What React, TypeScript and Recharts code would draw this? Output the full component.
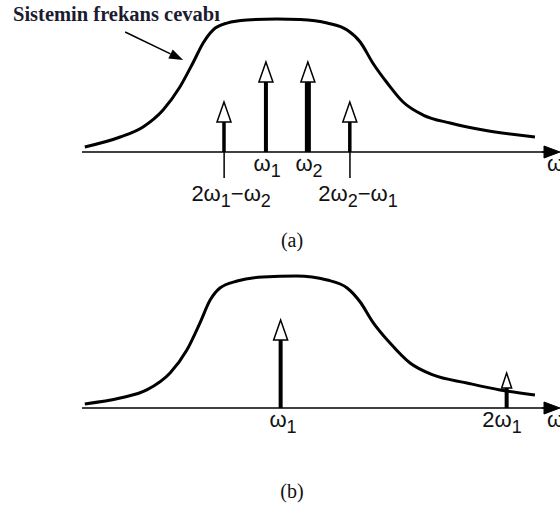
import { Bar, ComposedChart, Line, ReferenceDot, XAxis, YAxis } from 'recharts'

// system response curves (arbitrary freq units 0..10, amplitude 0..10)
const RESP_A_X = [0.06, 0.82, 1.31, 1.74, 2.1, 2.38, 2.6, 2.81, 3.11, 3.54, 4.18, 4.68, 5.26, 5.69, 5.97, 6.24, 6.55, 6.89, 7.32, 7.9, 8.61, 9.72]
const RESP_A_Y = [0.36, 1.07, 1.79, 3.0, 4.64, 6.36, 7.79, 8.71, 9.21, 9.43, 9.5, 9.46, 9.21, 8.71, 7.86, 6.36, 4.93, 3.57, 2.64, 2.07, 1.57, 1.07]
const RESP_B_X = [0.06, 0.82, 1.39, 1.89, 2.25, 2.53, 2.75, 2.96, 3.33, 3.88, 4.61, 5.26, 5.69, 5.97, 6.24, 6.61, 7.04, 7.53, 8.26, 8.97, 9.72]
const RESP_B_Y = [0.29, 0.71, 1.29, 2.5, 4.14, 6.07, 7.71, 8.57, 9.07, 9.36, 9.43, 9.14, 8.57, 7.57, 6.14, 4.64, 3.21, 2.36, 1.79, 1.29, 0.93]

// impulses (tones and products)
const IMP_A_X = [3.05, 3.95, 4.85, 5.75]
const IMP_A_H = [3.57, 6.43, 6.43, 3.57]
const IMP_A_LABELS = [['2ω', '1', '−ω', '2'], ['ω', '1'], ['ω', '2'], ['2ω', '2', '−ω', '1']]
const IMP_B_X = [4.27, 9.12]
const IMP_B_H = [6.29, 2.5]
const IMP_B_LABELS = [['ω', '1'], ['2ω', '1']]

const TITLE = 'Sistemin frekans cevabı'
const AXIS_NAME = 'ω'

const SANS = '"Liberation Sans", Arial, sans-serif'
const SERIF = '"Liberation Serif", "Times New Roman", serif'
const INK = '#111'
const FS = 22
const FS_SUB = 18

function buildRows(rx: number[], ry: number[], ix: number[], ih: number[]) {
  const rows: { x: number; resp?: number; imp?: number }[] = []
  rx.forEach((x, i) => rows.push({ x, resp: ry[i] }))
  ix.forEach((x, i) => rows.push({ x, imp: ih[i] }))
  return rows.sort((a, b) => a.x - b.x)
}

function SubText({ x, y, parts }: { x: number; y: number; parts: string[] }) {
  return (
    <text x={x} y={y} textAnchor="middle" fontFamily={SANS} fontSize={FS} fill={INK}>
      {parts.map((s, k) => (
        <tspan key={k} dy={k === 0 ? 0 : k % 2 ? 6 : -6} fontSize={k % 2 ? FS_SUB : FS}>
          {s}
        </tspan>
      ))}
    </text>
  )
}

function ImpTick(props: any) {
  const { x, y, payload, xs, labels, dxs } = props
  const i = xs.indexOf(payload.value)
  if (i < 0) return null
  const parts = labels[i]
  const low = parts.length > 2
  return (
    <g>
      {low && <line x1={x} x2={x} y1={y} y2={y + 26} stroke="#000" strokeWidth={1.5} />}
      <SubText x={x + dxs[i]} y={low ? y + 49 : y + 19} parts={parts} />
    </g>
  )
}

function AxisEnd(props: any) {
  const { viewBox, caption, captionDy } = props
  const { x, y, width } = viewBox
  const ex = x + width
  return (
    <g>
      <line x1={ex - 6} x2={ex} y1={y} y2={y} stroke="#000" strokeWidth={1.5} />
      <path d={`M${ex - 4},${y - 6} L${ex + 12},${y} L${ex - 4},${y + 6} Z`} fill="#000" stroke="#000" />
      <text x={ex - 1} y={y + 19} fontFamily={SANS} fontSize={FS} fill={INK}>
        {AXIS_NAME}
      </text>
      <text x={x + 210} y={y + captionDy} textAnchor="middle" fontFamily={SERIF} fontSize={20} fill={INK}>
        {caption}
      </text>
    </g>
  )
}

function Impulse(props: any) {
  const { x, y, width, height, payload, xs, stems } = props
  if (payload?.imp == null || !height) return null
  const i = xs.indexOf(payload.x)
  const cx = x + width / 2
  const small = height < 45
  const hh = small ? 15 : 20
  const hw = small ? 5 : 7
  const sw = stems[i] ?? 4
  const base = y + height
  return (
    <g>
      <line x1={cx} x2={cx} y1={y + hh} y2={base} stroke="#000" strokeWidth={sw} />
      <polygon
        points={`${cx},${y} ${cx - hw},${y + hh} ${cx + hw},${y + hh}`}
        fill="#fff"
        stroke="#000"
        strokeWidth={1.5}
      />
    </g>
  )
}

function Pointer(props: any) {
  const { cx, cy } = props
  const sx = cx - 58
  const sy = cy - 28
  const len = Math.hypot(cx - sx, cy - sy)
  const ux = (cx - sx) / len
  const uy = (cy - sy) / len
  const bx = cx - 14 * ux
  const by = cy - 14 * uy
  return (
    <g>
      <line x1={sx} y1={sy} x2={bx} y2={by} stroke="#000" strokeWidth={1.5} />
      <polygon points={`${cx},${cy} ${bx - 5 * uy},${by + 5 * ux} ${bx + 5 * uy},${by - 5 * ux}`} fill="#000" />
    </g>
  )
}

function Spectrum({
  rx,
  ry,
  ix,
  ih,
  labels,
  dxs,
  stems,
  caption,
  captionDy,
  pointer = false,
}: {
  rx: number[]
  ry: number[]
  ix: number[]
  ih: number[]
  labels: string[][]
  dxs: number[]
  stems: number[]
  caption: string
  captionDy: number
  pointer?: boolean
}) {
  const data = buildRows(rx, ry, ix, ih)
  return (
    <ComposedChart width={560} height={256} data={data} margin={{ top: 12, right: 12, bottom: 0, left: 82 }}>
      <XAxis
        dataKey="x"
        type="number"
        domain={[0, 10]}
        allowDataOverflow
        ticks={ix}
        interval={0}
        tickLine={false}
        tickSize={0}
        tickMargin={0}
        height={104}
        axisLine={{ stroke: '#000', strokeWidth: 1.5 }}
        tick={(p: any) => <ImpTick {...p} xs={ix} labels={labels} dxs={dxs} />}
        label={<AxisEnd caption={caption} captionDy={captionDy} />}
      />
      <YAxis hide type="number" domain={[0, 10]} allowDataOverflow />
      <Line
        dataKey="resp"
        type="monotone"
        stroke="#000"
        strokeWidth={3}
        dot={false}
        activeDot={false}
        connectNulls
        isAnimationActive={false}
      />
      <Bar
        dataKey="imp"
        barSize={14}
        shape={(p: any) => <Impulse {...p} xs={ix} stems={stems} />}
        isAnimationActive={false}
      />
      {pointer && <ReferenceDot x={2.17} y={6.57} shape={(p: any) => <Pointer {...p} />} />}
    </ComposedChart>
  )
}

export default function App() {
  return (
    <div style={{ position: 'absolute', left: 0, top: 0, width: 560, height: 512, background: '#fff' }}>
      <div
        style={{
          position: 'absolute',
          left: 13,
          top: 3,
          fontFamily: SERIF,
          fontWeight: 'bold',
          fontSize: 20.5,
          color: '#1c1c30',
          whiteSpace: 'nowrap',
        }}
      >
        {TITLE}
      </div>
      <Spectrum
        rx={RESP_A_X}
        ry={RESP_A_Y}
        ix={IMP_A_X}
        ih={IMP_A_H}
        labels={IMP_A_LABELS}
        dxs={[7, 1, 1, 8]}
        stems={[3.5, 4, 6, 3.5]}
        caption="(a)"
        captionDy={95}
        pointer
      />
      <Spectrum
        rx={RESP_B_X}
        ry={RESP_B_Y}
        ix={IMP_B_X}
        ih={IMP_B_H}
        labels={IMP_B_LABELS}
        dxs={[2, -5]}
        stems={[4, 4]}
        caption="(b)"
        captionDy={90}
      />
    </div>
  )
}
